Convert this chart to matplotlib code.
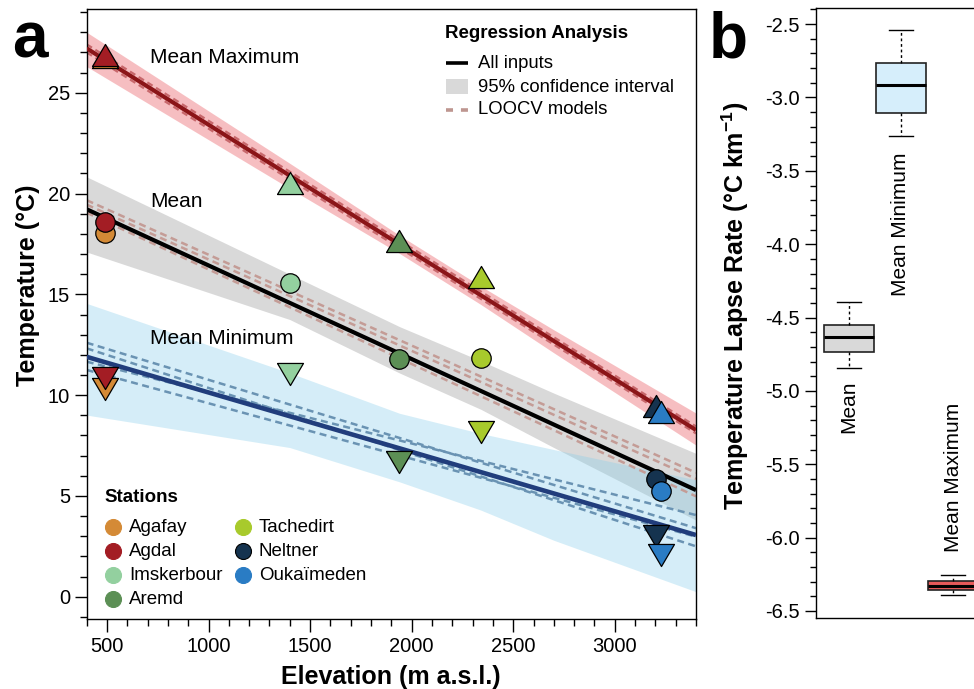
import numpy as np
import matplotlib
matplotlib.use('Agg')
import matplotlib.pyplot as plt
from matplotlib.lines import Line2D
from matplotlib.patches import Rectangle
from matplotlib.ticker import MultipleLocator, FormatStrFormatter

plt.rcParams['font.family'] = ['Liberation Sans', 'DejaVu Sans']
plt.rcParams['axes.unicode_minus'] = False
plt.rcParams['mathtext.fontset'] = 'custom'
plt.rcParams['mathtext.rm'] = 'Liberation Sans'
plt.rcParams['mathtext.bf'] = 'Liberation Sans:bold'

# ---------------- data ----------------
stations = ['Agafay', 'Agdal', 'Imskerbour', 'Aremd', 'Tachedirt', 'Neltner', 'Oukaïmeden']
station_colors = ['#D48A36', '#A31D24', '#93D09F', '#5C8F55', '#A8CA2C', '#15334F', '#2A7CC4']
elevation = [490, 490, 1400, 1940, 2340, 3203, 3230]
t_max = [26.75, 26.87, 20.50, 17.66, 15.87, 9.46, 9.16]
t_mean = [18.06, 18.60, 15.58, 11.79, 11.86, 5.84, 5.24]
t_min = [10.32, 10.85, 11.06, 6.70, 8.17, 3.00, 2.06]

fit_elev = [400, 3400]
fit_max = [27.20, 8.27]
fit_mean = [19.22, 5.29]
fit_min = [11.90, 3.06]
loocv_max = [[27.40, 8.45], [27.00, 8.10]]
loocv_mean = [[19.67, 6.15], [19.45, 5.85], [19.05, 4.98]]
loocv_min = [[12.60, 3.40], [11.66, 4.05], [12.32, 2.50], [11.25, 2.98]]

band_elev = [400, 1400, 1940, 2340, 2700, 3400]
ci_max_hi = [28.00, 21.50, 17.93, 15.41, 13.24, 9.11]
ci_max_lo = [26.30, 20.25, 17.03, 14.50, 12.10, 7.52]
ci_mean_hi = [20.83, 16.00, 13.40, 11.70, 10.10, 7.11]
ci_mean_lo = [17.10, 13.75, 11.10, 9.30, 7.40, 3.80]
ci_min_hi = [14.55, 11.10, 9.10, 8.10, 7.30, 5.80]
ci_min_lo = [9.01, 7.40, 5.70, 4.30, 2.80, 0.25]

series_labels = ['Mean Maximum', 'Mean', 'Mean Minimum']
series_label_pos = [(713, 26.77), (713, 19.62), (713, 12.80)]

lapse_labels = ['Mean', 'Mean Minimum', 'Mean Maximum']
lapse_whislo = [-4.843, -3.265, -6.390]
lapse_q1 = [-4.732, -3.103, -6.360]
lapse_med = [-4.634, -2.917, -6.330]
lapse_q3 = [-4.549, -2.767, -6.297]
lapse_whishi = [-4.393, -2.543, -6.253]
lapse_colors = ['#D9D9D9', '#D6EEFB', '#E65A5A']
lapse_label_y = [-4.926, -3.372, -6.095]

# ---------------- layout ----------------
W, H = 974, 689
fig = plt.figure(figsize=(W / 100, H / 100), dpi=100)


def fx(px):
    return px / W


def fy(py):
    return 1 - py / H


ax = fig.add_axes([fx(86.7), fy(619.3), (696 - 86.7) / W, (619.3 - 9.3) / H])
ax2 = fig.add_axes([fx(816.3), fy(617.7), (985.5 - 816.3) / W, (617.7 - 8) / H])

# ---------------- panel a ----------------
ax.fill_between(band_elev, ci_mean_lo, ci_mean_hi, color='#8C8C8C', alpha=0.33, lw=0, zorder=1)
ax.fill_between(band_elev, ci_max_lo, ci_max_hi, color='#E8474F', alpha=0.35, lw=0, zorder=1)
ax.fill_between(band_elev, ci_min_lo, ci_min_hi, color='skyblue', alpha=0.35, lw=0, zorder=1.1)

dash = (0, (2.8, 1.8))
for row in loocv_mean:
    ax.plot(fit_elev, row, ls=dash, lw=1.8, color='#C49C96', zorder=2)
for row in loocv_min:
    ax.plot(fit_elev, row, ls=dash, lw=1.8, color='#6A93B3', zorder=2)
for row in loocv_max:
    ax.plot(fit_elev, row, ls=dash, lw=1.6, color='#C8686C', zorder=2)

ax.plot(fit_elev, fit_max, color='#8B1518', lw=3.0, zorder=3, solid_capstyle='butt')
ax.plot(fit_elev, fit_mean, color='black', lw=3.0, zorder=3, solid_capstyle='butt')
ax.plot(fit_elev, fit_min, color='#213D7C', lw=3.3, zorder=3, solid_capstyle='butt')

tri_up = [(-1, -0.85), (1, -0.85), (0, 0.85), (-1, -0.85)]
tri_dn = [(-1, 0.85), (1, 0.85), (0, -0.85), (-1, 0.85)]
for i, (st, c) in enumerate(zip(stations, station_colors)):
    z = 4 + i * 0.01
    ax.plot(elevation[i], t_min[i], marker=tri_dn, ms=18.7, mfc=c, mec='black', mew=0.9,
            ls='none', zorder=z)
    ax.plot(elevation[i], t_mean[i], marker='o', ms=14, mfc=c, mec='black', mew=0.9,
            ls='none', zorder=z)
    ax.plot(elevation[i], t_max[i], marker=tri_up, ms=18.7, mfc=c, mec='black', mew=0.9,
            ls='none', zorder=z)

for lab, (x, y) in zip(series_labels, series_label_pos):
    ax.text(x, y, lab, ha='left', va='center', fontsize=15, zorder=5)

ax.set_xlim(400, 3400)
ax.set_ylim(-1.12, 29.14)
ax.xaxis.set_major_locator(MultipleLocator(500))
ax.xaxis.set_minor_locator(MultipleLocator(100))
ax.yaxis.set_major_locator(MultipleLocator(5))
ax.yaxis.set_minor_locator(MultipleLocator(1))
ax.set_xticks([500, 1000, 1500, 2000, 2500, 3000])
ax.tick_params(which='major', length=9, width=1, labelsize=14.5, direction='out')
ax.tick_params(which='minor', length=4.7, width=1, direction='out')
ax.tick_params(axis='x', which='major', pad=3.5)
ax.tick_params(axis='y', which='major', pad=3)
for sp in ax.spines.values():
    sp.set_linewidth(1.0)

fig.text(fx(28), fy(285), 'Temperature (°C)', rotation=90, ha='center', va='center',
         fontsize=18, fontweight='bold')
fig.text(fx(391), fy(677), 'Elevation (m a.s.l.)', ha='center', va='center',
         fontsize=18, fontweight='bold')
fig.text(fx(12), fy(58), 'a', ha='left', va='baseline', fontsize=46, fontweight='bold')
fig.text(fx(709), fy(58), 'b', ha='left', va='baseline', fontsize=46, fontweight='bold')

# Regression legend (manual)
fig.text(fx(445), fy(34), 'Regression Analysis', ha='left', va='center', fontsize=13.5,
         fontweight='bold')
fig.add_artist(Line2D([fx(446), fx(468)], [fy(63), fy(63)], color='black', lw=2.6,
                      transform=fig.transFigure, solid_capstyle='butt'))
fig.text(fx(478), fy(63), 'All inputs', ha='left', va='center', fontsize=13.3)
fig.add_artist(Rectangle((fx(446), fy(94)), (468 - 446) / W, 15 / H, color='#D9D9D9',
                         transform=fig.transFigure, lw=0))
fig.text(fx(478), fy(87), '95% confidence interval', ha='left', va='center', fontsize=13.3)
fig.add_artist(Line2D([fx(446), fx(468)], [fy(110), fy(110)], color='#BE9690', lw=2.6,
                      ls=(0, (1.94, 2.2)), transform=fig.transFigure,
                      dash_capstyle='butt'))
fig.text(fx(478), fy(110), 'LOOCV models', ha='left', va='center', fontsize=13.3)

# Stations legend (manual)
fig.text(fx(104), fy(497), 'Stations', ha='left', va='center', fontsize=13.5, fontweight='bold')
leg_pos = [(113, 527), (113, 551), (113, 575), (113, 599), (243, 527), (243, 551), (243, 575)]
for (mx, my), st, c in zip(leg_pos, stations, station_colors):
    fig.add_artist(Line2D([fx(mx)], [fy(my)], marker='o', ms=11.5, mfc=c,
                          mec=c if st != 'Neltner' else 'black', mew=0.8, ls='none',
                          transform=fig.transFigure))
    fig.text(fx(mx + 16), fy(my), st, ha='left', va='center', fontsize=13.5)

# ---------------- panel b ----------------
stats = []
for i, lab in enumerate(lapse_labels):
    stats.append(dict(med=lapse_med[i], q1=lapse_q1[i], q3=lapse_q3[i],
                      whislo=lapse_whislo[i], whishi=lapse_whishi[i], fliers=[], label=lab))
positions = [1, 2, 3]
bp = ax2.bxp(stats, positions=positions, widths=0.96, capwidths=0.46, patch_artist=True,
             showfliers=False,
             boxprops=dict(edgecolor='#222222', linewidth=1.2),
             medianprops=dict(color='black', linewidth=2.2, solid_capstyle='butt'),
             whiskerprops=dict(color='black', linewidth=1.0, linestyle=(0, (2, 2))),
             capprops=dict(color='black', linewidth=1.0))
for patch, c in zip(bp['boxes'], lapse_colors):
    patch.set_facecolor(c)

for p, lab, y in zip(positions, lapse_labels, lapse_label_y):
    va = 'bottom' if lab == 'Mean Maximum' else 'top'
    ax2.text(p, y, lab, rotation=90, ha='center', va=va, fontsize=15)

ax2.set_xlim(0.38, 3.62)
ax2.set_ylim(-6.546, -2.39)
ax2.set_xticks([])
ax2.yaxis.set_major_locator(MultipleLocator(0.5))
ax2.yaxis.set_minor_locator(MultipleLocator(0.1))
ax2.yaxis.set_major_formatter(FormatStrFormatter('%.1f'))
ax2.tick_params(which='major', length=8, width=1, labelsize=14.5, pad=4)
ax2.tick_params(which='minor', length=4.5, width=1)
for sp in ax2.spines.values():
    sp.set_linewidth(1.0)

fig.text(fx(735), fy(306), r'Temperature Lapse Rate (°C km$^{\mathbf{-1}}$)', rotation=90,
         ha='center', va='center', fontsize=18, fontweight='bold')

fig.savefig('out.png', dpi=100)
